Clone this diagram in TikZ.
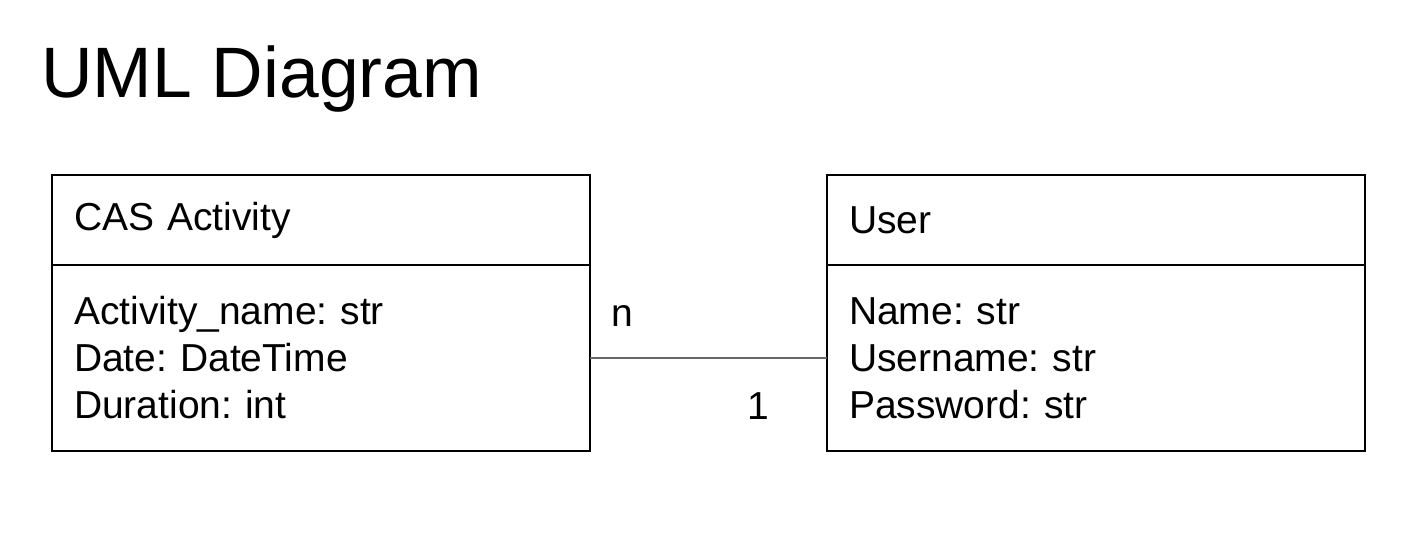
\documentclass[tikz,border=0pt]{standalone}
\usepackage{fontspec}
\setmainfont{Liberation Sans}
\usetikzlibrary{positioning}
\tikzset{
  classbox/.style={draw=black, line width=1pt, outer sep=0pt, minimum width=269pt,
    text width=247pt, inner xsep=11pt, align=left,
    font=\fontsize{19.5}{23.5}\selectfont\frenchspacing},
  classhead/.style={classbox, minimum height=45pt},
  classbody/.style={classbox, minimum height=93pt},
  multlabel/.style={inner sep=0pt, font=\fontsize{19.5}{22}\selectfont}
}
\begin{document}
\begin{tikzpicture}[x=0.5pt, y=-0.5pt]
	\useasboundingbox (0,0) rectangle (1412,548);
	
	\node[anchor=base west, inner sep=0pt, font=\fontsize{35.7}{40}\selectfont] (title) at (41,97) {UML Diagram};
	
	% activity class
	\node[classhead] (actHead) at (321,220) {CAS Activity};
	\node[classbody, below=0pt of actHead] (actBody) {Activity\_name: str\\Date: DateTime\\Duration: int};
	
	% user class
	\node[classhead] (userHead) at (1096,220) {User};
	\node[classbody, below=0pt of userHead] (userBody) {Name: str\\Username: str\\Password: str};
	
	\draw[black!60, line width=1pt] (actBody.east) -- (userBody.west);
	\node[multlabel] (multN) at (622,316) {n};
	\node[multlabel] (multOne) at (758,406) {1};
\end{tikzpicture}
\end{document}
